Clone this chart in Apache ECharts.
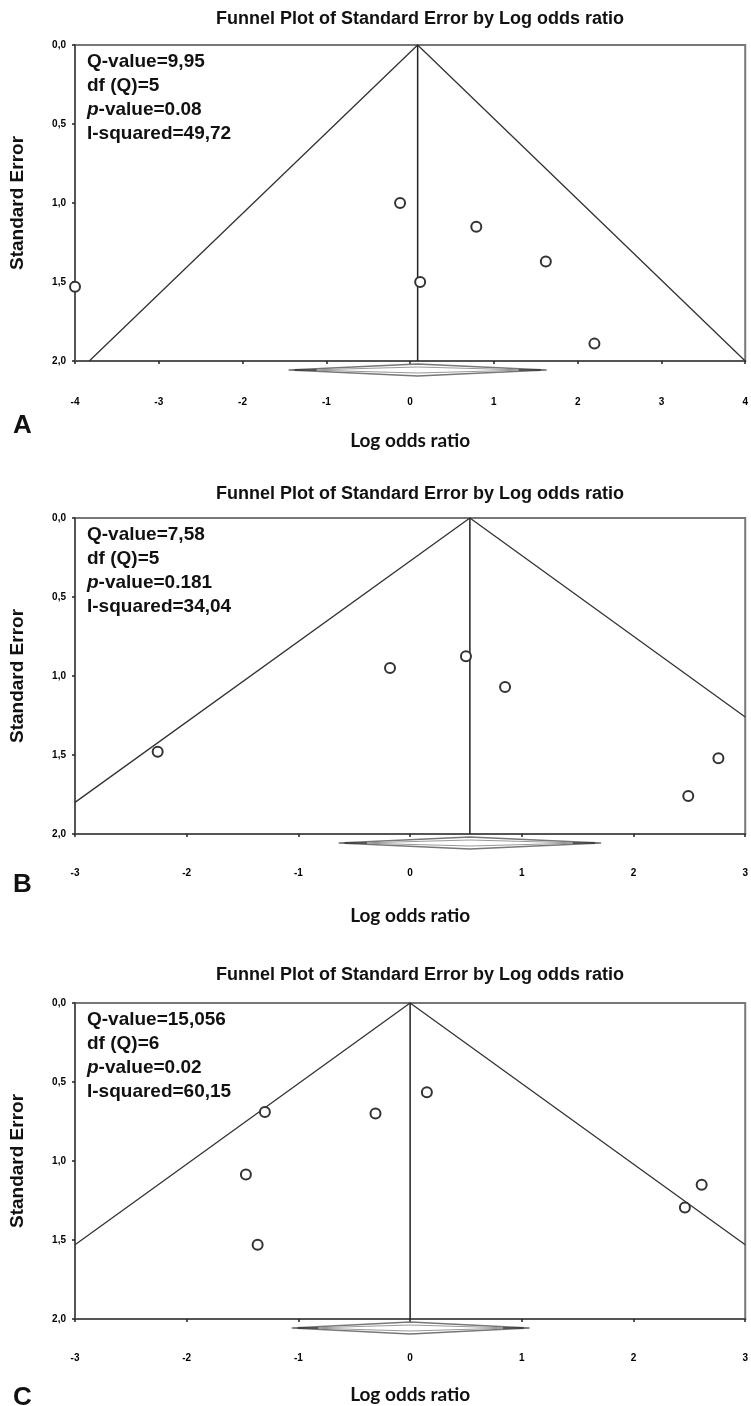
<!DOCTYPE html>
<html>
<head>
<meta charset="utf-8">
<title>Funnel plots</title>
<script src="https://cdn.jsdelivr.net/npm/echarts@6/dist/echarts.min.js"></script>
<style>
    html, body { margin: 0; padding: 0; background: #fff; overflow: hidden; }
    #main { width: 751px; height: 1406px; }
</style>
</head>
<body>
<div id="main"></div>
<script>
// panel letters and titles
var panelNames = ['A', 'B', 'C'];
var titleText = 'Funnel Plot of Standard Error by Log odds ratio';
var yTickLabels = ['0,0', '0,5', '1,0', '1,5', '2,0'];

// x ranges per panel
var xMinList = [-4, -3, -3];
var xMaxList = [4, 3, 3];

// heterogeneity text
var statsA = ['Q-value=9,95', 'df (Q)=5', '{i|p}-value=0.08', 'I-squared=49,72'];
var statsB = ['Q-value=7,58', 'df (Q)=5', '{i|p}-value=0.181', 'I-squared=34,04'];
var statsC = ['Q-value=15,056', 'df (Q)=6', '{i|p}-value=0.02', 'I-squared=60,15'];

// studies: [log odds ratio, standard error]
var pointsA = [[-4.0, 1.53], [-0.12, 1.0], [0.12, 1.5], [0.79, 1.15], [1.62, 1.37], [2.2, 1.89]];
var pointsB = [[-2.26, 1.48], [-0.18, 0.95], [0.5, 0.875], [0.85, 1.07], [2.76, 1.52], [2.49, 1.76]];
var pointsC = [[-1.3, 0.69], [-0.31, 0.7], [0.15, 0.565], [-1.47, 1.085], [-1.365, 1.53], [2.61, 1.15], [2.46, 1.295]];

// pooled estimate and its interval (diamond)
var pooled = [0.09, 0.535, 0];
var ciLow = [-1.45, -0.64, -1.06];
var ciHigh = [1.63, 1.71, 1.07];

// funnel outline: left end, apex, right end (as seen on the plot edges)
var funnelA = [[-3.83, 2.0], [0.09, 0], [4.0, 2.0]];
var funnelB = [[-3, 1.8], [0.535, 0], [3, 1.26]];
var funnelC = [[-3, 1.53], [0, 0], [3, 1.53]];

var statsList = [statsA, statsB, statsC];
var pointsList = [pointsA, pointsB, pointsC];
var funnelList = [funnelA, funnelB, funnelC];

// layout
var gridTops = [45, 518, 1003];
var gridHeight = 316;
var titleTops = [5, 480, 961];
var letterTops = [413, 872, 1385];
var labelMargins = [36, 34, 34];
var nameGaps = [70, 72, 66];

var fontMain = "'Liberation Sans', Arial, sans-serif";
var fontCal = "Lato, 'Open Sans', sans-serif";

(function () {
    var myChart = echarts.init(document.getElementById('main'), null, { renderer: 'canvas', width: 751, height: 1406 });

    var grids = [], xAxes = [], yAxes = [], series = [], titles = [], graphics = [];

    for (var i = 0; i < 3; i++) {
        grids.push({
            left: 74, right: 0, top: gridTops[i], height: gridHeight,
            show: true, borderColor: '#777', borderWidth: 2, backgroundColor: '#fff'
        });
        xAxes.push({
            gridIndex: i, type: 'value', min: xMinList[i], max: xMaxList[i], interval: 1,
            name: 'Log odds ratio', nameLocation: 'middle', nameGap: nameGaps[i],
            nameTextStyle: { fontFamily: fontCal, fontWeight: 'bold', fontSize: 19, color: '#111' },
            axisLine: { onZero: false, lineStyle: { color: '#555', width: 2 } },
            axisTick: { length: 3, lineStyle: { color: '#222', width: 1.5 } },
            axisLabel: { margin: labelMargins[i], fontFamily: fontMain, fontWeight: 'bold', fontSize: 10, color: '#000' },
            splitLine: { show: false }
        });
        yAxes.push({
            gridIndex: i, type: 'value', inverse: true, min: 0, max: 2, interval: 0.5,
            name: 'Standard Error', nameLocation: 'middle', nameGap: 48, nameRotate: 90,
            nameTextStyle: { fontFamily: fontMain, fontWeight: 'bold', fontSize: 19, color: '#111' },
            axisLine: { onZero: false, lineStyle: { color: '#555', width: 2 } },
            axisTick: { length: 3, lineStyle: { color: '#222', width: 1.5 } },
            axisLabel: {
                margin: 9, fontFamily: fontMain, fontWeight: 'bold', fontSize: 10, color: '#000',
                formatter: function (v, idx) { return yTickLabels[Math.round(v / 0.5)]; }
            },
            splitLine: { show: false }
        });
        titles.push({
            text: titleText, left: 415, top: titleTops[i], textAlign: 'center',
            textStyle: { fontFamily: fontMain, fontWeight: 'bold', fontSize: 18, color: '#111' }
        });

        // funnel
        series.push({
            type: 'line', xAxisIndex: i, yAxisIndex: i, data: funnelList[i],
            symbol: 'none', silent: true,
            lineStyle: { color: '#333', width: 1.3 }
        });
        // pooled estimate line
        series.push({
            type: 'line', xAxisIndex: i, yAxisIndex: i,
            data: [[pooled[i], 0], [pooled[i], 2]],
            symbol: 'none', silent: true,
            lineStyle: { color: '#222', width: 1.5 }
        });
        // studies
        series.push({
            type: 'scatter', xAxisIndex: i, yAxisIndex: i, data: pointsList[i],
            symbol: 'emptyCircle', symbolSize: 10, clip: false, z: 5,
            itemStyle: { color: '#333', borderColor: '#333', borderWidth: 1.6, opacity: 1 }
        });
        // diamond under the axis
        series.push({
            type: 'custom', xAxisIndex: i, yAxisIndex: i, clip: false, silent: true,
            data: [[ciLow[i], pooled[i], ciHigh[i]]],
            encode: { x: [0, 1, 2] },
            renderItem: function (params, api) {
                var lo = api.coord([api.value(0), 2]);
                var mid = api.coord([api.value(1), 2]);
                var hi = api.coord([api.value(2), 2]);
                var y = lo[1] + 9, h = 6;
                var lo2 = lo[0] + (mid[0] - lo[0]) * 0.14;
                var hi2 = hi[0] - (hi[0] - mid[0]) * 0.14;
                return {
                    type: 'group',
                    children: [
                        {
                            type: 'polygon',
                            shape: { points: [[lo[0], y], [mid[0], y - h], [hi[0], y], [mid[0], y + h]] },
                            style: { fill: '#fff', stroke: '#777', lineWidth: 1.4 }
                        },
                        {
                            type: 'polygon',
                            shape: { points: [[lo2, y], [mid[0], y - h + 3], [hi2, y], [mid[0], y + h - 3]] },
                            style: { fill: 'none', stroke: '#999', lineWidth: 1 }
                        },
                        {
                            type: 'line',
                            shape: { x1: lo[0] + 6, y1: y, x2: lo2 + 10, y2: y },
                            style: { stroke: '#222', lineWidth: 1.2 }
                        },
                        {
                            type: 'line',
                            shape: { x1: hi2 - 10, y1: y, x2: hi[0] - 6, y2: y },
                            style: { stroke: '#222', lineWidth: 1.2 }
                        }
                    ]
                };
            }
        });

        // stats box text
        graphics.push({
            type: 'text', left: 87, top: gridTops[i] + 5, z: 100,
            style: {
                text: statsList[i].join('\n'),
                fontFamily: fontMain, fontWeight: 'bold', fontSize: 19, lineHeight: 24, fill: '#111',
                rich: {
                    i: { fontFamily: fontMain, fontWeight: 'bold', fontStyle: 'italic', fontSize: 19, lineHeight: 24, color: '#111' }
                }
            }
        });
        // panel letter
        graphics.push({
            type: 'text', left: 13, top: letterTops[i], z: 100,
            style: { text: panelNames[i], fontFamily: fontMain, fontWeight: 'bold', fontSize: 26, fill: '#111' }
        });
    }

    myChart.setOption({
        animation: false,
        backgroundColor: '#fff',
        title: titles,
        grid: grids,
        xAxis: xAxes,
        yAxis: yAxes,
        series: series,
        graphic: graphics
    });
})();
</script>
</body>
</html>
